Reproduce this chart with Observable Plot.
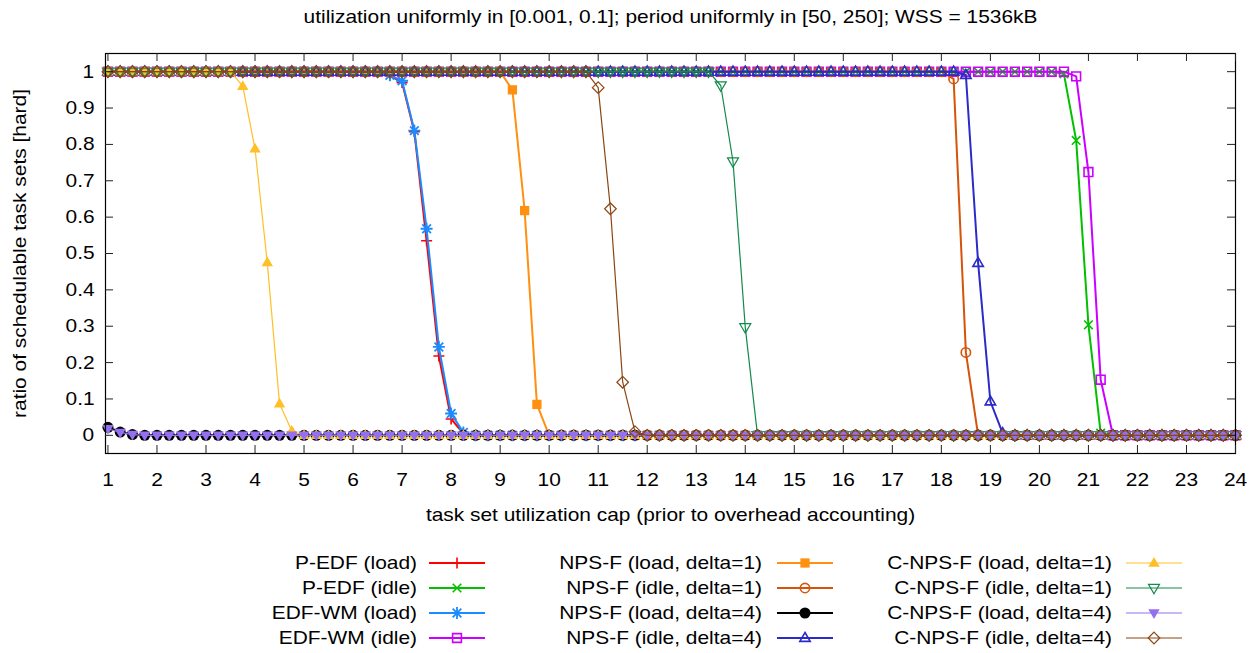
<!DOCTYPE html>
<html><head><meta charset="utf-8">
<script src="https://cdn.jsdelivr.net/npm/d3@7"></script>
<script src="https://cdn.jsdelivr.net/npm/@observablehq/plot@0.6"></script>
<style>
body{margin:0;background:#fff;font-family:"Liberation Sans",Arial,sans-serif;}
#chart svg{display:block;}
</style></head><body><div id="chart"></div>
<script>
// ---------- DATA ----------
const titleText = "utilization uniformly in [0.001, 0.1]; period uniformly in [50, 250]; WSS = 1536kB";
const xLabel = "task set utilization cap (prior to overhead accounting)";
const yLabel = "ratio of schedulable task sets [hard]";

const xTicks = [1,2,3,4,5,6,7,8,9,10,11,12,13,14,15,16,17,18,19,20,21,22,23,24];
const yTicks = [0,0.1,0.2,0.3,0.4,0.5,0.6,0.7,0.8,0.9,1];
const yTickLabels = ["0","0.1","0.2","0.3","0.4","0.5","0.6","0.7","0.8","0.9","1"];

const xs = [
 1,1.25,1.5,1.75,2,2.25,2.5,2.75,3,3.25,
 3.5,3.75,4,4.25,4.5,4.75,5,5.25,5.5,5.75,
 6,6.25,6.5,6.75,7,7.25,7.5,7.75,8,8.25,
 8.5,8.75,9,9.25,9.5,9.75,10,10.25,10.5,10.75,
 11,11.25,11.5,11.75,12,12.25,12.5,12.75,13,13.25,
 13.5,13.75,14,14.25,14.5,14.75,15,15.25,15.5,15.75,
 16,16.25,16.5,16.75,17,17.25,17.5,17.75,18,18.25,
 18.5,18.75,19,19.25,19.5,19.75,20,20.25,20.5,20.75,
 21,21.25,21.5,21.75,22,22.25,22.5,22.75,23,23.25,
 23.5,23.75,24];

const seriesNames = [
 "P-EDF (load)","P-EDF (idle)","EDF-WM (load)","EDF-WM (idle)",
 "NPS-F (load, delta=1)","NPS-F (idle, delta=1)","NPS-F (load, delta=4)","NPS-F (idle, delta=4)",
 "C-NPS-F (load, delta=1)","C-NPS-F (idle, delta=1)","C-NPS-F (load, delta=4)","C-NPS-F (idle, delta=4)"];

const pedfLoad = [
 1,1,1,1,1,1,1,1,1,1,
 1,1,1,1,1,1,1,1,1,1,
 1,1,1,0.99,0.97,0.835,0.535,0.218,0.045,0.005,
 0,0,0,0,0,0,0,0,0,0,
 0,0,0,0,0,0,0,0,0,0,
 0,0,0,0,0,0,0,0,0,0,
 0,0,0,0,0,0,0,0,0,0,
 0,0,0,0,0,0,0,0,0,0,
 0,0,0,0,0,0,0,0,0,0,
 0,0,0];
const pedfIdle = [
 1,1,1,1,1,1,1,1,1,1,
 1,1,1,1,1,1,1,1,1,1,
 1,1,1,1,1,1,1,1,1,1,
 1,1,1,1,1,1,1,1,1,1,
 1,1,1,1,1,1,1,1,1,1,
 1,1,1,1,1,1,1,1,1,1,
 1,1,1,1,1,1,1,1,1,1,
 1,1,1,1,1,1,1,1,0.994,0.811,
 0.304,0.006,0,0,0,0,0,0,0,0,
 0,0,0];
const edfwmLoad = [
 1,1,1,1,1,1,1,1,1,1,
 1,1,1,1,1,1,1,1,1,1,
 1,1,1,0.99,0.975,0.838,0.568,0.243,0.06,0.008,
 0,0,0,0,0,0,0,0,0,0,
 0,0,0,0,0,0,0,0,0,0,
 0,0,0,0,0,0,0,0,0,0,
 0,0,0,0,0,0,0,0,0,0,
 0,0,0,0,0,0,0,0,0,0,
 0,0,0,0,0,0,0,0,0,0,
 0,0,0];
const edfwmIdle = [
 1,1,1,1,1,1,1,1,1,1,
 1,1,1,1,1,1,1,1,1,1,
 1,1,1,1,1,1,1,1,1,1,
 1,1,1,1,1,1,1,1,1,1,
 1,1,1,1,1,1,1,1,1,1,
 1,1,1,1,1,1,1,1,1,1,
 1,1,1,1,1,1,1,1,1,1,
 1,1,1,1,1,1,1,1,1,0.987,
 0.724,0.153,0,0,0,0,0,0,0,0,
 0,0,0];
const npsfLoadD1 = [
 1,1,1,1,1,1,1,1,1,1,
 1,1,1,1,1,1,1,1,1,1,
 1,1,1,1,1,1,1,1,1,1,
 1,1,1,0.95,0.618,0.085,0,0,0,0,
 0,0,0,0,0,0,0,0,0,0,
 0,0,0,0,0,0,0,0,0,0,
 0,0,0,0,0,0,0,0,0,0,
 0,0,0,0,0,0,0,0,0,0,
 0,0,0,0,0,0,0,0,0,0,
 0,0,0];
const npsfIdleD1 = [
 1,1,1,1,1,1,1,1,1,1,
 1,1,1,1,1,1,1,1,1,1,
 1,1,1,1,1,1,1,1,1,1,
 1,1,1,1,1,1,1,1,1,1,
 1,1,1,1,1,1,1,1,1,1,
 1,1,1,1,1,1,1,1,1,1,
 1,1,1,1,1,1,1,1,1,0.98,
 0.228,0,0,0,0,0,0,0,0,0,
 0,0,0,0,0,0,0,0,0,0,
 0,0,0];
const npsfLoadD4 = [
 0.022,0.009,0.002,0,0,0,0,0,0,0,
 0,0,0,0,0,0,0,0,0,0,
 0,0,0,0,0,0,0,0,0,0,
 0,0,0,0,0,0,0,0,0,0,
 0,0,0,0,0,0,0,0,0,0,
 0,0,0,0,0,0,0,0,0,0,
 0,0,0,0,0,0,0,0,0,0,
 0,0,0,0,0,0,0,0,0,0,
 0,0,0,0,0,0,0,0,0,0,
 0,0,0];
const npsfIdleD4 = [
 1,1,1,1,1,1,1,1,1,1,
 1,1,1,1,1,1,1,1,1,1,
 1,1,1,1,1,1,1,1,1,1,
 1,1,1,1,1,1,1,1,1,1,
 1,1,1,1,1,1,1,1,1,1,
 1,1,1,1,1,1,1,1,1,1,
 1,1,1,1,1,1,1,1,1,1,
 0.991,0.474,0.093,0.006,0,0,0,0,0,0,
 0,0,0,0,0,0,0,0,0,0,
 0,0,0];
const cnpsfLoadD1 = [
 1,1,1,1,1,1,1,1,1,1,
 1,0.96,0.788,0.475,0.087,0.012,0,0,0,0,
 0,0,0,0,0,0,0,0,0,0,
 0,0,0,0,0,0,0,0,0,0,
 0,0,0,0,0,0,0,0,0,0,
 0,0,0,0,0,0,0,0,0,0,
 0,0,0,0,0,0,0,0,0,0,
 0,0,0,0,0,0,0,0,0,0,
 0,0,0,0,0,0,0,0,0,0,
 0,0,0];
const cnpsfIdleD1 = [
 1,1,1,1,1,1,1,1,1,1,
 1,1,1,1,1,1,1,1,1,1,
 1,1,1,1,1,1,1,1,1,1,
 1,1,1,1,1,1,1,1,1,1,
 1,1,1,1,1,1,1,1,1,1,
 0.962,0.753,0.297,0,0,0,0,0,0,0,
 0,0,0,0,0,0,0,0,0,0,
 0,0,0,0,0,0,0,0,0,0,
 0,0,0,0,0,0,0,0,0,0,
 0,0,0];
const cnpsfLoadD4 = [
 0.018,0.008,0.002,0,0,0,0,0,0,0,
 0,0,0,0,0,0,0,0,0,0,
 0,0,0,0,0,0,0,0,0,0,
 0,0,0,0,0,0,0,0,0,0,
 0,0,0,0,0,0,0,0,0,0,
 0,0,0,0,0,0,0,0,0,0,
 0,0,0,0,0,0,0,0,0,0,
 0,0,0,0,0,0,0,0,0,0,
 0,0,0,0,0,0,0,0,0,0,
 0,0,0];
const cnpsfIdleD4 = [
 1,1,1,1,1,1,1,1,1,1,
 1,1,1,1,1,1,1,1,1,1,
 1,1,1,1,1,1,1,1,1,1,
 1,1,1,1,1,1,1,1,1,1,
 0.956,0.623,0.146,0.01,0,0,0,0,0,0,
 0,0,0,0,0,0,0,0,0,0,
 0,0,0,0,0,0,0,0,0,0,
 0,0,0,0,0,0,0,0,0,0,
 0,0,0,0,0,0,0,0,0,0,
 0,0,0];

const seriesValues = [pedfLoad,pedfIdle,edfwmLoad,edfwmIdle,npsfLoadD1,npsfIdleD1,npsfLoadD4,npsfIdleD4,cnpsfLoadD1,cnpsfIdleD1,cnpsfLoadD4,cnpsfIdleD4];

// ---------- STYLES ----------
function sym(f){return {draw(ctx,size){f(ctx,Math.sqrt(size/Math.PI));}};}
const symPlus = sym((c,r)=>{c.moveTo(-r,0);c.lineTo(r,0);c.moveTo(0,-r);c.lineTo(0,r);});
const symTimes = sym((c,r)=>{const a=r*0.78;c.moveTo(-a,-a);c.lineTo(a,a);c.moveTo(-a,a);c.lineTo(a,-a);});
const symAst = sym((c,r)=>{const a=r*0.72;c.moveTo(-r,0);c.lineTo(r,0);c.moveTo(0,-r);c.lineTo(0,r);c.moveTo(-a,-a);c.lineTo(a,a);c.moveTo(-a,a);c.lineTo(a,-a);});
const symSquare = sym((c,r)=>{const a=r*0.8;c.rect(-a,-a,2*a,2*a);});
const symCircle = sym((c,r)=>{const a=r*0.85;c.moveTo(a,0);c.arc(0,0,a,0,2*Math.PI);c.closePath();});
const symTriUp = sym((c,r)=>{c.moveTo(0,-r);c.lineTo(r*0.95,r*0.62);c.lineTo(-r*0.95,r*0.62);c.closePath();});
const symTriDown = sym((c,r)=>{c.moveTo(0,r);c.lineTo(r*0.95,-r*0.62);c.lineTo(-r*0.95,-r*0.62);c.closePath();});
const symDiamond = sym((c,r)=>{c.moveTo(0,-r);c.lineTo(r,0);c.lineTo(0,r);c.lineTo(-r,0);c.closePath();});

const seriesStyle = [
 {color:"#ff0000", symbol:symPlus,    filled:false, lw:2,   sw:1.6, r:5.5},
 {color:"#00c000", symbol:symTimes,   filled:false, lw:2,   sw:1.6, r:5.5},
 {color:"#1a8cff", symbol:symAst,     filled:false, lw:2,   sw:1.8, r:6},
 {color:"#cc00ff", symbol:symSquare,  filled:false, lw:2,   sw:1.6, r:5.5},
 {color:"#ff9010", symbol:symSquare,  filled:true,  lw:2,   sw:1,   r:5.8},
 {color:"#d5530a", symbol:symCircle,  filled:false, lw:2,   sw:1.6, r:5.5},
 {color:"#000000", symbol:symCircle,  filled:true,  lw:2,   sw:1,   r:6.5},
 {color:"#2b2bc8", symbol:symTriUp,   filled:false, lw:2,   sw:1.6, r:5.5},
 {color:"#ffbf26", symbol:symTriUp,   filled:true,  lw:1.2, sw:1,   r:6},
 {color:"#138a4a", symbol:symTriDown, filled:false, lw:1.2, sw:1.2, r:5.8},
 {color:"#9370ee", symbol:symTriDown, filled:true,  lw:1.2, sw:1,   r:6},
 {color:"#8b4513", symbol:symDiamond, filled:false, lw:1.2, sw:1.2, r:5.8}
];

const FONT = "Liberation Sans, Arial, sans-serif";
const FS = 18.5;
const STRETCH = 1.13;

// ---------- PLOT ----------
const W = 1258, H = 540, mT = 53, mB = 87, mL = 105, mR = 23;
const frameH = H - mT - mB, frameW = W - mL - mR, tick = 8;

const rows = [];
seriesValues.forEach((vals,k)=>vals.forEach((v,i)=>rows.push({k, x: xs[i], y: v})));

const marks = [];
seriesValues.forEach((vals,k)=>{
  const s = seriesStyle[k];
  const d = rows.filter(r=>r.k===k);
  marks.push(Plot.line(d,{x:"x",y:"y",stroke:s.color,strokeWidth:s.lw}));
  marks.push(Plot.dot(d,{x:"x",y:"y",symbol:s.symbol,r:s.r,
    fill:s.filled?s.color:"none", stroke:s.filled?"none":s.color, strokeWidth:s.sw}));
});

const plot = Plot.plot({
  width: W, height: H,
  marginTop: mT, marginBottom: mB, marginLeft: mL, marginRight: mR,
  style: {fontFamily: FONT, fontSize: FS+"px", color:"#000", background:"#fff"},
  x: {domain:[0.95,24]},
  y: {domain:[-0.05,1.05], axis:null},
  marks: [
    ...marks,
    Plot.frame({stroke:"#000", strokeWidth:1.2}),
    Plot.ruleX(xTicks,{x:d=>d, insetTop: frameH - tick, stroke:"#222"}),
    Plot.ruleX(xTicks,{x:d=>d, insetBottom: frameH - tick, stroke:"#222"}),
    Plot.ruleY(yTicks,{y:d=>d, insetRight: frameW - tick, stroke:"#222"}),
    Plot.ruleY(yTicks,{y:d=>d, insetLeft: frameW - tick, stroke:"#222"}),
    Plot.axisX(xTicks,{anchor:"bottom", tickSize:0, tickPadding:19, label:null, fontSize:FS, tickFormat:d=>String(d)}),
    Plot.text(yTicks.filter((d,i)=>yTickLabels[i].length===1),{y:d=>d, text:d=>yTickLabels[yTicks.indexOf(d)], frameAnchor:"left", textAnchor:"start", dx:-23, fontSize:FS}),
    Plot.text(yTicks.filter((d,i)=>yTickLabels[i].length===3),{y:d=>d, text:d=>yTickLabels[yTicks.indexOf(d)], frameAnchor:"left", textAnchor:"start", dx:-40, fontSize:FS}),
    Plot.text([titleText],{text:d=>d, frameAnchor:"top", dy:-43.5, fontSize:FS}),
    Plot.text([xLabel],{text:d=>d, frameAnchor:"bottom", dy:67, fontSize:FS}),
    Plot.text([yLabel],{text:d=>d, frameAnchor:"left", dx:-85, rotate:-90, fontSize:FS})
  ]
});
document.getElementById("chart").appendChild(plot);

// ---------- LEGEND ----------
const legend = d3.create("svg").attr("width",W).attr("height",653-H)
  .style("display","block").attr("font-family",FONT).attr("font-size",FS);
const colRight = [417, 762, 1112], lineStart = [429, 777, 1126], lineLen = 56, rowY = [23, 48, 73, 98];
seriesNames.forEach((name,k)=>{
  const s = seriesStyle[k];
  const col = Math.floor(k/4), row = k%4;
  const g = legend.append("g");
  g.append("text").attr("x",colRight[col]).attr("y",rowY[row]).attr("dy","0.35em")
    .attr("text-anchor","end").attr("fill","#000").text(name);
  g.append("line").attr("x1",lineStart[col]).attr("x2",lineStart[col]+lineLen)
    .attr("y1",rowY[row]).attr("y2",rowY[row]).attr("stroke",s.color).attr("stroke-width",s.lw);
  g.append("path").attr("d",d3.symbol(s.symbol, s.r*s.r*Math.PI)())
    .attr("transform",`translate(${lineStart[col]+lineLen/2},${rowY[row]})`)
    .attr("fill",s.filled?s.color:"none").attr("stroke",s.filled?"none":s.color).attr("stroke-width",s.sw);
});
document.getElementById("chart").appendChild(legend.node());

// horizontal glyph widening to match the reference's wide text rendering
document.querySelectorAll("#chart svg text").forEach(t=>{
  const L = t.getComputedTextLength();
  if (!(L > 0)) return;
  const L2 = L*STRETCH;
  t.setAttribute("textLength", L2.toFixed(2));
  t.setAttribute("lengthAdjust","spacingAndGlyphs");
  if (t.textContent === yLabel) {
    // place the rotated label explicitly centred on its anchor
    t.setAttribute("text-anchor","start");
    t.style.textAnchor = "start";
    t.setAttribute("x", (-L2/2).toFixed(2));
  }
});
</script>
</body></html>
